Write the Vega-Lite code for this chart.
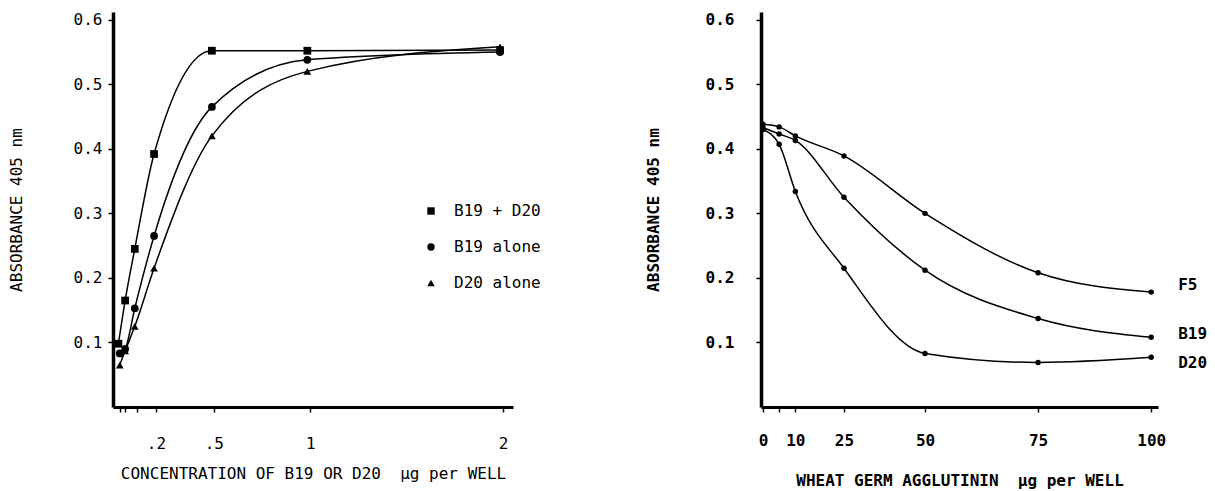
{
  "$schema": "https://vega.github.io/schema/vega-lite/v6.json",
  "background": "white",
  "padding": {"left": 8, "top": 11, "right": 5, "bottom": 2},
  "spacing": 132,
  "config": {
    "view": {"stroke": null},
    "font": "DejaVu Sans Mono",
    "axis": {
      "grid": false,
      "domainColor": "black",
      "tickColor": "black",
      "labelColor": "black",
      "titleColor": "black",
      "labelFont": "DejaVu Sans Mono",
      "titleFont": "DejaVu Sans Mono",
      "labelFontSize": 16,
      "titleFontSize": 16,
      "tickSize": 5,
      "tickWidth": 1.5
    }
  },
  "datasets": {
    "left": [
      {"series": "B19 + D20", "conc": 0.005, "abs": 0.098},
      {"series": "B19 + D20", "conc": 0.04, "abs": 0.165},
      {"series": "B19 + D20", "conc": 0.09, "abs": 0.245},
      {"series": "B19 + D20", "conc": 0.19, "abs": 0.392},
      {"series": "B19 + D20", "conc": 0.49, "abs": 0.552},
      {"series": "B19 + D20", "conc": 0.985, "abs": 0.552},
      {"series": "B19 + D20", "conc": 1.985, "abs": 0.553},
      {"series": "B19 alone", "conc": 0.012, "abs": 0.083},
      {"series": "B19 alone", "conc": 0.04, "abs": 0.09},
      {"series": "B19 alone", "conc": 0.09, "abs": 0.153},
      {"series": "B19 alone", "conc": 0.19, "abs": 0.265},
      {"series": "B19 alone", "conc": 0.49, "abs": 0.465},
      {"series": "B19 alone", "conc": 0.985, "abs": 0.538},
      {"series": "B19 alone", "conc": 1.985, "abs": 0.55},
      {"series": "D20 alone", "conc": 0.012, "abs": 0.065},
      {"series": "D20 alone", "conc": 0.04, "abs": 0.087},
      {"series": "D20 alone", "conc": 0.09, "abs": 0.125},
      {"series": "D20 alone", "conc": 0.19, "abs": 0.215},
      {"series": "D20 alone", "conc": 0.49, "abs": 0.42},
      {"series": "D20 alone", "conc": 0.985, "abs": 0.52},
      {"series": "D20 alone", "conc": 1.985, "abs": 0.558}
    ],
    "right": [
      {"series": "F5", "wga": 0, "abs": 0.438},
      {"series": "F5", "wga": 5, "abs": 0.434},
      {"series": "F5", "wga": 10, "abs": 0.42},
      {"series": "F5", "wga": 25, "abs": 0.389},
      {"series": "F5", "wga": 50, "abs": 0.3},
      {"series": "F5", "wga": 75, "abs": 0.208},
      {"series": "F5", "wga": 100, "abs": 0.178},
      {"series": "B19", "wga": 0, "abs": 0.433},
      {"series": "B19", "wga": 5, "abs": 0.423},
      {"series": "B19", "wga": 10, "abs": 0.413},
      {"series": "B19", "wga": 25, "abs": 0.325},
      {"series": "B19", "wga": 50, "abs": 0.212},
      {"series": "B19", "wga": 75, "abs": 0.137},
      {"series": "B19", "wga": 100, "abs": 0.108},
      {"series": "D20", "wga": 0, "abs": 0.43},
      {"series": "D20", "wga": 5, "abs": 0.407},
      {"series": "D20", "wga": 10, "abs": 0.334},
      {"series": "D20", "wga": 25, "abs": 0.215},
      {"series": "D20", "wga": 50, "abs": 0.083},
      {"series": "D20", "wga": 75, "abs": 0.069},
      {"series": "D20", "wga": 100, "abs": 0.077}
    ]
  },
  "hconcat": [
    {
      "width": 400,
      "height": 395,
      "data": {"name": "left"},
      "encoding": {
        "x": {
          "field": "conc",
          "type": "quantitative",
          "scale": {"domain": [-0.023, 2.052], "nice": false, "zero": false},
          "axis": {
            "title": "CONCENTRATION OF B19 OR D20 \u00a0µg per WELL",
            "values": [0.0125, 0.04, 0.1, 0.2, 0.5, 1, 2],
            "labelExpr": "datum.value == 0.2 ? '.2' : datum.value == 0.5 ? '.5' : datum.value == 1 ? '1' : datum.value == 2 ? '2' : ''",
            "domainWidth": 3,
            "labelPadding": 23,
            "titlePadding": 14,
            "titleFontWeight": "normal",
            "labelFlush": false
          }
        },
        "y": {
          "field": "abs",
          "type": "quantitative",
          "scale": {"domain": [0, 0.612], "nice": false, "zero": false},
          "axis": {
            "title": "ABSORBANCE 405 nm",
            "values": [0.1, 0.2, 0.3, 0.4, 0.5, 0.6],
            "format": ".1f",
            "domainWidth": 3.5,
            "labelPadding": 6,
            "titlePadding": 49,
            "titleFontWeight": "normal"
          }
        }
      },
      "layer": [
        {
          "mark": {"type": "line", "interpolate": "monotone", "color": "black", "strokeWidth": 1.5},
          "encoding": {"detail": {"field": "series"}}
        },
        {
          "mark": {"type": "point", "filled": true, "color": "black", "size": 60, "opacity": 1},
          "encoding": {
            "shape": {
              "field": "series",
              "type": "nominal",
              "scale": {"domain": ["B19 + D20", "B19 alone", "D20 alone"], "range": ["square", "circle", "triangle-up"]},
              "legend": {
                "title": null,
                "orient": "none",
                "legendX": 310,
                "legendY": 191,
                "labelFont": "DejaVu Sans Mono",
                "labelFontSize": 16,
                "labelColor": "black",
                "symbolSize": 55,
                "symbolFillColor": "black",
                "symbolStrokeColor": "black",
                "rowPadding": 20,
                "labelOffset": 15
              }
            }
          }
        }
      ]
    },
    {
      "width": 397,
      "height": 395,
      "data": {"name": "right"},
      "encoding": {
        "x": {
          "field": "wga",
          "type": "quantitative",
          "scale": {"domain": [-0.6, 50, 101.5], "range": [0, 164, 397], "nice": false, "zero": false},
          "axis": {
            "title": "WHEAT GERM AGGLUTININ \u00a0µg per WELL",
            "values": [0, 5, 10, 25, 50, 75, 100],
            "labelExpr": "datum.value == 5 ? '' : datum.label",
            "domainWidth": 3,
            "labelPadding": 20,
            "titlePadding": 24,
            "labelFontWeight": "bold",
            "titleFontWeight": "bold",
            "labelFlush": false
          }
        },
        "y": {
          "field": "abs",
          "type": "quantitative",
          "scale": {"domain": [0, 0.612], "nice": false, "zero": false},
          "axis": {
            "title": "ABSORBANCE 405 nm",
            "values": [0.1, 0.2, 0.3, 0.4, 0.5, 0.6],
            "format": ".1f",
            "domainWidth": 3.5,
            "labelPadding": 22,
            "titlePadding": 44,
            "labelFontWeight": "bold",
            "titleFontWeight": "bold"
          }
        }
      },
      "layer": [
        {
          "mark": {"type": "line", "interpolate": "monotone", "color": "black", "strokeWidth": 1.5},
          "encoding": {"detail": {"field": "series"}}
        },
        {
          "mark": {"type": "circle", "color": "black", "size": 30, "opacity": 1},
          "encoding": {"detail": {"field": "series"}}
        },
        {
          "transform": [{"filter": "datum.series == 'F5' && datum.wga == 100"}],
          "mark": {"type": "text", "align": "left", "baseline": "middle", "dx": 27, "dy": -7, "fontSize": 16, "fontWeight": "bold", "font": "DejaVu Sans Mono", "color": "black"},
          "encoding": {"text": {"field": "series"}}
        },
        {
          "transform": [{"filter": "datum.series == 'B19' && datum.wga == 100"}],
          "mark": {"type": "text", "align": "left", "baseline": "middle", "dx": 27, "dy": -3, "fontSize": 16, "fontWeight": "bold", "font": "DejaVu Sans Mono", "color": "black"},
          "encoding": {"text": {"field": "series"}}
        },
        {
          "transform": [{"filter": "datum.series == 'D20' && datum.wga == 100"}],
          "mark": {"type": "text", "align": "left", "baseline": "middle", "dx": 27, "dy": 6, "fontSize": 16, "fontWeight": "bold", "font": "DejaVu Sans Mono", "color": "black"},
          "encoding": {"text": {"field": "series"}}
        }
      ]
    }
  ]
}
